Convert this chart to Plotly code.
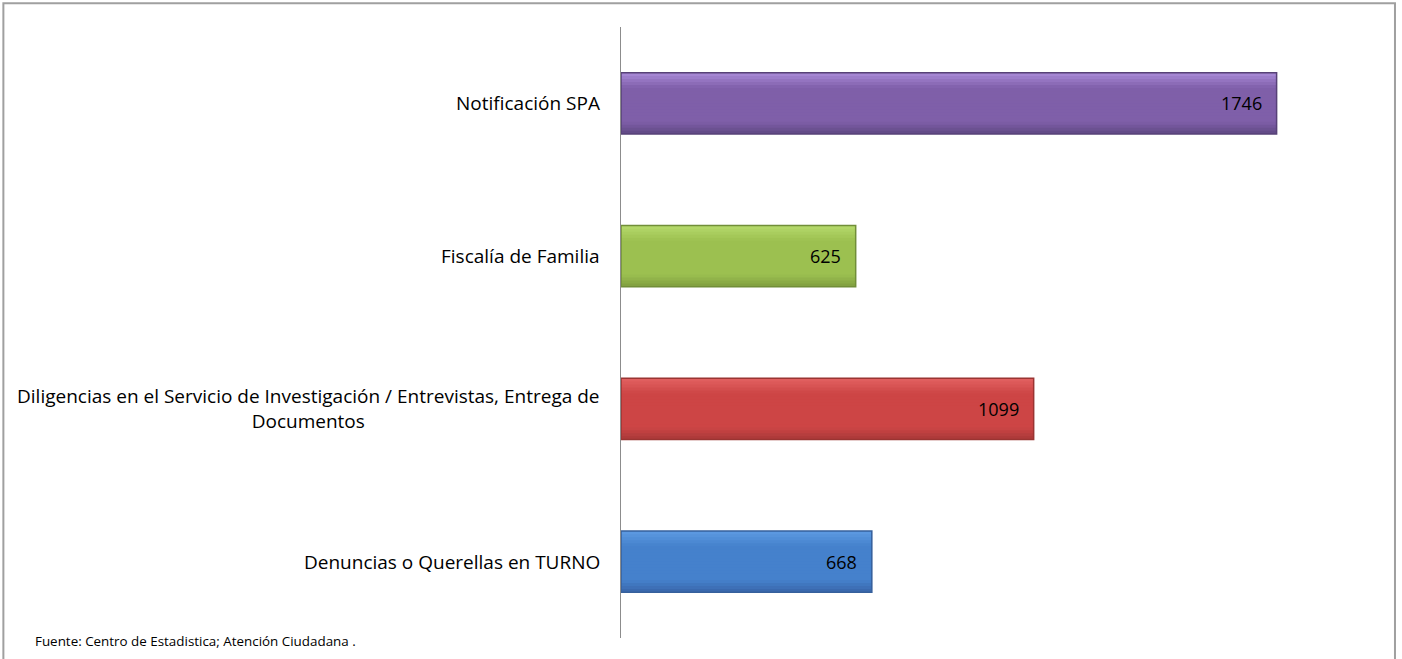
import plotly.graph_objects as go

# data, bottom to top as drawn
categorias = [
    "Denuncias o Querellas en TURNO",
    "Diligencias en el Servicio de Investigación / Entrevistas, Entrega de<br>Documentos",
    "Fiscalía de Familia",
    "Notificación SPA",
]
valores = [668, 1099, 625, 1746]

# gradient colours per bar: (top, middle, bottom), plus outline
tonos = [
    ("#5d9be2", "#4581cc", "#3966aa"),
    ("#e26262", "#cd4545", "#a93939"),
    ("#b6da6c", "#9cc050", "#7f9e3f"),
    ("#a98ad8", "#7f5fa9", "#5f4883"),
]
bordes = ["#36609c", "#9a3432", "#718e38", "#574177"]

fuente = "Fuente: Centro de Estadistica; Atención Ciudadana ."

FONT = "Open Sans, Lato, sans-serif"


def hex2rgb(h):
    h = h.lstrip("#")
    return [int(h[i:i + 2], 16) for i in (0, 2, 4)]


def mezcla(a, b, t):
    ca, cb = hex2rgb(a), hex2rgb(b)
    return "rgb(%d,%d,%d)" % tuple(round(x + (y - x) * t) for x, y in zip(ca, cb))


def color_en(tono, t):
    # flat middle, light strip on top, darker strip at the bottom
    top, mid, bot = tono
    if t < 0.2:
        return mezcla(bot, mid, t / 0.2)
    if t > 0.75:
        return mezcla(mid, top, (t - 0.75) / 0.25)
    return mezcla(mid, mid, 0)


BW = 0.4
N = 20
fig = go.Figure()
# each band runs from its own bottom to the bar top; higher bands drawn later
for i in range(N):
    t = (i + 0.5) / N
    fig.add_trace(go.Bar(
        x=valores, y=categorias, orientation="h",
        width=BW * (N - i) / N, offset=-BW / 2 + i * BW / N,
        marker=dict(color=[color_en(tn, t) for tn in tonos], line=dict(width=0)),
        hoverinfo="skip",
    ))

# outline
fig.add_trace(go.Bar(
    x=valores, y=categorias, orientation="h",
    width=BW, offset=-BW / 2,
    marker=dict(color="rgba(0,0,0,0)", line=dict(color=bordes, width=1.5)),
    hoverinfo="x+y",
))

# value labels near the end of each bar
for c, v in zip(categorias, valores):
    fig.add_annotation(
        x=v, y=c, text=str(v), showarrow=False, xanchor="right", xshift=-13,
        font=dict(size=18, color="black", family=FONT),
    )

# category labels as annotations so the wrapped one is centred
for c in categorias:
    fig.add_annotation(
        x=0, xref="paper", y=c, yref="y", text=c, showarrow=False,
        xanchor="right", align="center", xshift=-19,
        font=dict(size=19, color="black", family=FONT),
    )

fig.add_annotation(
    x=-0.7829, xref="paper", y=0, yref="paper", text=fuente, showarrow=False,
    xanchor="left", yanchor="middle", yshift=-3,
    font=dict(size=13.4, color="black", family=FONT),
)

fig.add_shape(type="rect", xref="paper", yref="paper",
              x0=-0.8224, x1=1.0306, y0=-0.05, y1=1.039,
              line=dict(color="#a0a0a0", width=2))

fig.update_xaxes(range=[0, 2000], visible=False)
fig.update_yaxes(showticklabels=False, showline=True, linecolor="#8c8c8c",
                 linewidth=1, ticks="", showgrid=False)

fig.update_layout(
    width=1402, height=659,
    margin=dict(l=621, r=30, t=27, b=21),
    plot_bgcolor="white", paper_bgcolor="white",
    showlegend=False, barmode="overlay",
    font=dict(family=FONT),
)

fig.write_html("out.html", config={"displayModeBar": False},
               post_script="document.body.style.margin='0px';")
